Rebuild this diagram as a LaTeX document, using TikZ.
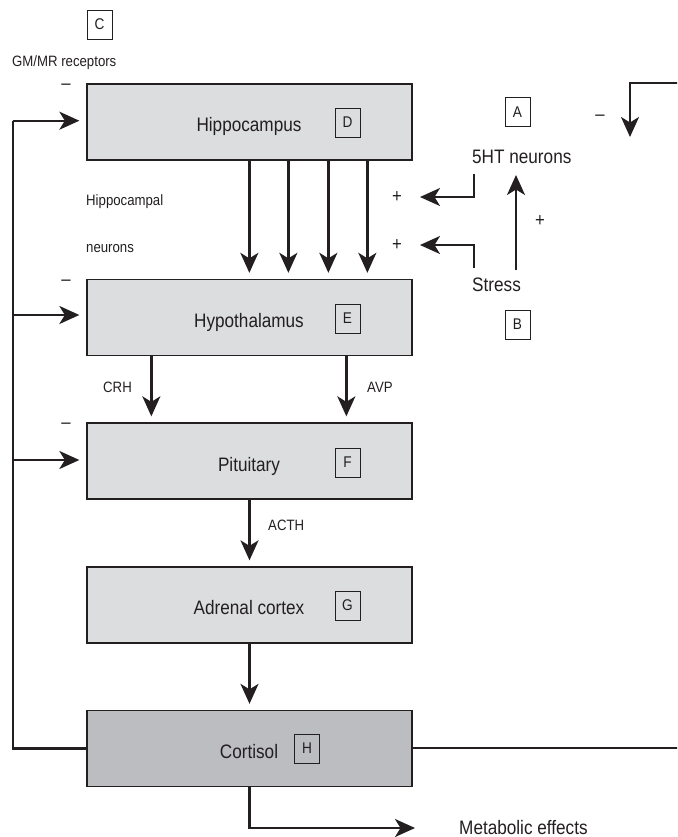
\documentclass[tikz,border=0pt]{standalone}
\usepackage{fontspec}
\setmainfont{Liberation Sans}[FakeStretch=0.88]
\usetikzlibrary{arrows.meta,calc}
\definecolor{boxgray}{HTML}{DCDDDF}
\definecolor{cortgray}{HTML}{BCBDC0}
\definecolor{ink}{HTML}{231F20}
\begin{document}
\begin{tikzpicture}[x=1pt,y=-1pt,
  organ/.style={draw=ink, line width=1.3pt, fill=boxgray, minimum width=325pt, minimum height=76pt, inner sep=0},
  letterbox/.style={draw=ink, line width=0.8pt, minimum width=25pt, minimum height=29pt, inner sep=0, font=\fontsize{15.5}{15.5}\selectfont, text=ink},
  big/.style={font=\fontsize{19.5}{20}\selectfont, inner sep=0, text=ink, anchor=base},
  small/.style={font=\fontsize{15}{15}\selectfont, inner sep=0, text=ink, anchor=base west},
  sign/.style={font=\fontsize{19}{19}\selectfont, inner sep=0, text=ink},
  arr/.style={draw=ink, line width=2.3pt, -{Stealth[length=20pt,width=18pt,inset=5.5pt]}},
  ln/.style={draw=ink, line width=2.3pt},
]
\useasboundingbox (0,0) rectangle (677,837);
\clip (0,0) rectangle (677,837);

% organ boxes
\node[organ] (hip) at (249.5,122) {};
\node[organ] (hyp) at (249.5,317.5) {};
\node[organ] (pit) at (249.5,461) {};
\node[organ] (adr) at (249.5,605) {};
\node[organ, fill=cortgray] (cort) at (249.5,748.5) {};

% box labels
\node[big] (hipT) at (249,132) {Hippocampus};
\node[big] (hypT) at (249,327) {Hypothalamus};
\node[big] (pitT) at (249,471) {Pituitary};
\node[big] (adrT) at (249,614) {Adrenal cortex};
\node[big] (cortT) at (249,758) {Cortisol};

% letter boxes
\node[letterbox, fill=white] (C) at (99.5,24.5) {C};
\node[letterbox, fill=white] (A) at (517.5,112) {A};
\node[letterbox, fill=white] (B) at (517.5,324.5) {B};
\node[letterbox] (D) at (347.5,122.5) {D};
\node[letterbox] (E) at (347.5,318.5) {E};
\node[letterbox] (F) at (347.5,462.5) {F};
\node[letterbox] (G) at (347.5,605.5) {G};
\node[letterbox] (H) at (307,748.5) {H};

% small labels
\node[small] (gm) at (12,66.5) {GM/MR receptors};
\node[small] (hc1) at (86,205) {Hippocampal};
\node[small] (hc2) at (86,252.5) {neurons};
\node[small] (crh) at (103,392.5) {CRH};
\node[small] (avp) at (367,392) {AVP};
\node[small] (acth) at (268,530) {ACTH};
\node[big, anchor=base west] (fht) at (472,164) {5HT neurons};
\node[big, anchor=base west] (stress) at (472,291.5) {Stress};
\node[big, anchor=base west] (met) at (459,834) {Metabolic effects};

% signs
\node[sign] (m1) at (66,87) {\textendash};
\node[sign] (m2) at (66,283) {\textendash};
\node[sign] (m3) at (66,426) {\textendash};
\node[sign] (m4) at (600,118) {\textendash};
\node[sign] (p1) at (397,197) {+};
\node[sign] (p2) at (397,245) {+};
\node[sign] (p3) at (540,221) {+};

% hippocampal neuron arrows
\foreach \dx in {163,202,242,281}
  \draw[arr, shorten >=6pt] ([xshift=\dx pt]hip.south west) -- ([xshift=\dx pt]hyp.north west);

% CRH, AVP
\draw[arr, shorten >=6pt] ([xshift=65pt]hyp.south west) -- ([xshift=65pt]pit.north west);
\draw[arr, shorten >=6pt] ([xshift=260pt]hyp.south west) -- ([xshift=260pt]pit.north west);
% ACTH
\draw[arr, shorten >=6pt] (pit.south) -- (adr.north);
% adrenal -> cortisol
\draw[arr, shorten >=6pt] (adr.south) -- (cort.north);

% left feedback
\coordinate (l1) at (12.7,120.7);
\coordinate (l2) at (12.7,315);
\coordinate (l3) at (12.7,460);
\draw[ln] (cort.west) -| (l1);
\draw[arr, shorten >=7pt] (l1) -- (hip.west |- l1);
\draw[arr, shorten >=7pt] (l2) -- (hyp.west |- l2);
\draw[arr, shorten >=7pt] (l3) -- (pit.west |- l3);

% right feedback to 5HT neurons
\coordinate (r1) at (700,748);
\coordinate (r2) at (630,83);
\coordinate (r3) at (630,137);
\draw[arr] (cort.east |- r1) -- (r1) |- (r2) -- (r3);

% metabolic effects
\coordinate (me) at (415,828);
\draw[arr] (cort.south) |- (me);

% 5HT / stress arrows
\coordinate (b1s) at (474,174);
\coordinate (b1e) at (420,197);
\coordinate (b2s) at (474,268);
\coordinate (b2e) at (420,245);
\draw[arr] (b1s) |- (b1e);
\draw[arr] (b2s) |- (b2e);
\coordinate (s1) at (516,270);
\coordinate (s2) at (516,175);
\draw[arr] (s1) -- (s2);
\end{tikzpicture}
\end{document}
